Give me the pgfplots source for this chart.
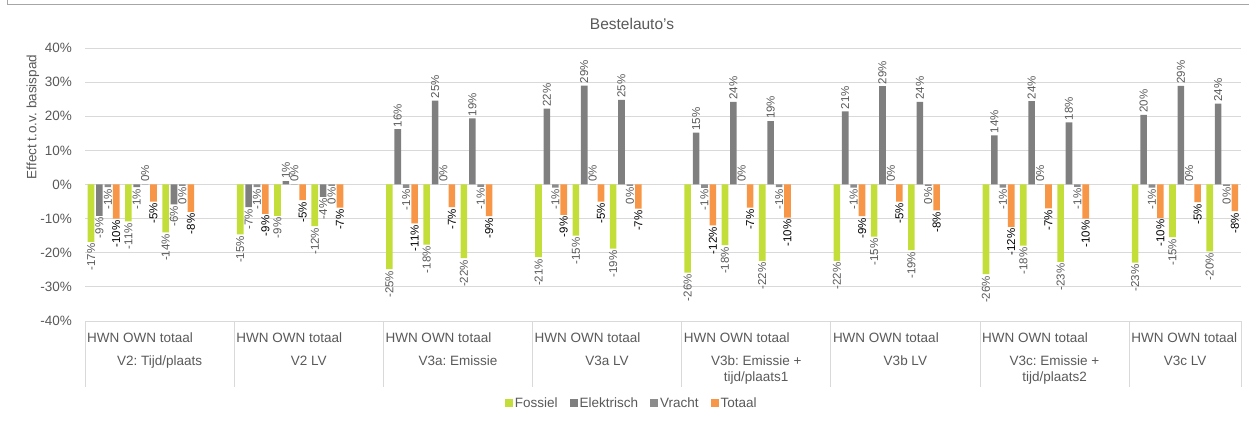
\documentclass[border=0pt]{standalone}
\usepackage{pgfplots}
\pgfplotsset{compat=1.18}
\usepackage{pgfplotstable}
\usepackage{fontspec}
\setmainfont{Liberation Sans}
\frenchspacing

\definecolor{fossiel}{HTML}{C3DE38}
\definecolor{elektrisch}{HTML}{7F7F7F}
\definecolor{vracht}{HTML}{8C8C8C}
\definecolor{totaal}{HTML}{F79646}
\definecolor{txt}{HTML}{595959}
\definecolor{gridc}{HTML}{D9D9D9}
\definecolor{framec}{HTML}{A6A6A6}

% data labels: \UP{..} above the bar end, \DN{..} below it
\protected\def\UP#1{#1\%}
\protected\def\DN#1{\llap{#1\%\hspace{4pt}}}

% x = slot (HWN, OWN, totaal per scenario; every 4th slot is empty)
% y = bar height in %, l = data label
\pgfplotstableread{
x y l
0 -16.8 \DN{-17}
1 -10.8 \DN{-11}
2 -14.0 \DN{-14}
4 -14.6 \DN{-15}
5 -9.2 \DN{-9}
6 -12.2 \DN{-12}
8 -24.8 \DN{-25}
9 -17.6 \DN{-18}
10 -21.6 \DN{-22}
12 -21.3 \DN{-21}
13 -15.0 \DN{-15}
14 -18.8 \DN{-19}
16 -25.8 \DN{-26}
17 -17.8 \DN{-18}
18 -22.4 \DN{-22}
20 -22.4 \DN{-22}
21 -15.3 \DN{-15}
22 -19.2 \DN{-19}
24 -26.3 \DN{-26}
25 -17.9 \DN{-18}
26 -22.7 \DN{-23}
28 -22.9 \DN{-23}
29 -15.4 \DN{-15}
30 -19.6 \DN{-20}
}\tabF

\pgfplotstableread{
x y l
0 -9.2 \DN{-9}
1 -0.8 \DN{-1}
2 -5.8 \DN{-6}
4 -6.6 \DN{-7}
5 1.0 \UP{1}
6 -3.6 \DN{-4}
8 16.2 \UP{16}
9 24.6 \UP{25}
10 19.4 \UP{19}
12 22.2 \UP{22}
13 29.0 \UP{29}
14 24.8 \UP{25}
16 15.2 \UP{15}
17 24.2 \UP{24}
18 18.6 \UP{19}
20 21.4 \UP{21}
21 28.8 \UP{29}
22 24.2 \UP{24}
24 14.4 \UP{14}
25 24.4 \UP{24}
26 18.2 \UP{18}
28 20.4 \UP{20}
29 28.9 \UP{29}
30 23.7 \UP{24}
}\tabE

\pgfplotstableread{
x y l
0 -0.8 \DN{-1}
1 0.1 \UP{0}
2 -0.4 \DN{0}
4 -0.8 \DN{-1}
5 0.1 \UP{0}
6 -0.4 \DN{0}
8 -1.0 \DN{-1}
9 0.1 \UP{0}
10 -0.7 \DN{-1}
12 -0.9 \DN{-1}
13 0.1 \UP{0}
14 -0.4 \DN{0}
16 -1.0 \DN{-1}
17 0.1 \UP{0}
18 -0.8 \DN{-1}
20 -0.9 \DN{-1}
21 0.1 \UP{0}
22 -0.4 \DN{0}
24 -0.9 \DN{-1}
25 0.1 \UP{0}
26 -0.7 \DN{-1}
28 -0.9 \DN{-1}
29 0.1 \UP{0}
30 -0.4 \DN{0}
}\tabV

\pgfplotstableread{
x y l
0 -10.0 \DN{-10}
1 -5.0 \DN{-5}
2 -8.0 \DN{-8}
4 -8.6 \DN{-9}
5 -4.6 \DN{-5}
6 -6.8 \DN{-7}
8 -11.4 \DN{-11}
9 -6.6 \DN{-7}
10 -9.3 \DN{-9}
12 -8.9 \DN{-9}
13 -5.0 \DN{-5}
14 -7.1 \DN{-7}
16 -12.0 \DN{-12}
17 -6.8 \DN{-7}
18 -9.7 \DN{-10}
20 -9.3 \DN{-9}
21 -5.0 \DN{-5}
22 -7.6 \DN{-8}
24 -12.4 \DN{-12}
25 -7.0 \DN{-7}
26 -10.0 \DN{-10}
28 -9.8 \DN{-10}
29 -5.2 \DN{-5}
30 -7.8 \DN{-8}
}\tabT

\pgfplotsset{
    lbl/.style={
        point meta=explicit symbolic,
        nodes near coords={\pgfplotspointmeta},
        every node near coord/.append style={rotate=90, anchor=west, inner sep=2pt,
            text=#1, font=\fontsize{11.5}{13}\selectfont},
    },
}

\begin{document}
\begin{tikzpicture}
\useasboundingbox (0pt,0pt) rectangle (1249pt,420pt);
\draw[framec, line width=1pt] (7pt,420pt) -- (7pt,415pt) -- (1249pt,415pt);
\node[text=txt, font=\fontsize{15.5}{18}\selectfont] at (632pt,396pt) {Bestelauto's};
\node[text=txt, rotate=90, font=\fontsize{13.5}{16}\selectfont] at (33pt,303pt) {Effect t.o.v. basispad};

\begin{axis}[
    at={(85pt,99pt)}, anchor=south west,
    scale only axis, width=1156pt, height=273pt,
    ybar=1.8pt, bar width=6.6pt,
    legend image code/.code={\fill[#1] (0pt,-4pt) rectangle (8pt,4pt);},
    xmin=-0.5, xmax=30.5, ymin=-40, ymax=40,
    xtick=\empty,
    ytick={-40,-30,...,40},
    yticklabels={-40\%,-30\%,-20\%,-10\%,0\%,10\%,20\%,30\%,40\%},
    yticklabel style={text=txt, font=\fontsize{13.5}{16}\selectfont, inner sep=0pt, xshift=-13pt},
    major tick length=0pt,
    axis line style={draw=none},
    ymajorgrids, grid style={gridc, line width=0.9pt},
    clip=false,
    legend columns=4,
    legend style={at={(0.473,-0.300)}, anchor=center, draw=none,
        font=\fontsize{13.5}{16}\selectfont, text=txt,
        nodes={inner xsep=2pt},
        /tikz/every even column/.append style={column sep=10pt}},
]
\addplot[fill=fossiel, draw=none, lbl=txt] table[x=x, y=y, meta=l] {\tabF};
\addplot[fill=elektrisch, draw=none, lbl=txt] table[x=x, y=y, meta=l] {\tabE};
\addplot[fill=vracht, draw=none, lbl=txt] table[x=x, y=y, meta=l] {\tabV};
\addplot[fill=totaal, draw=none, lbl=black] table[x=x, y=y, meta=l] {\tabT};
\legend{Fossiel,Elektrisch,Vracht,Totaal}

% category box below the plot
\foreach \b in {-0.5,3.5,7.5,11.5,15.5,19.5,23.5,27.5,30.5} {
    \edef\tmp{\noexpand\draw[gridc, line width=0.9pt] (axis cs:\b,-40) -- ([yshift=-66pt]axis cs:\b,-40);}
    \tmp
}
\foreach \b in {-0.5,3.5,7.5,11.5,15.5,19.5,23.5,27.5} {
    \edef\tmp{\noexpand\node[anchor=west, inner sep=0pt, text=txt, font=\noexpand\fontsize{13.5}{16}\noexpand\selectfont]
        at ([shift={(2pt,-17pt)}]axis cs:\b,-40) {HWN OWN totaal};}
    \tmp
}
\tikzset{grp/.style={anchor=north, inner sep=0pt, align=center, text=txt, font=\fontsize{13.5}{16}\selectfont}}
\node[grp] at ([yshift=-35pt]axis cs:1.5,-40) {V2: Tijd/plaats};
\node[grp] at ([yshift=-35pt]axis cs:5.5,-40) {V2 LV};
\node[grp] at ([yshift=-35pt]axis cs:9.5,-40) {V3a: Emissie};
\node[grp] at ([yshift=-35pt]axis cs:13.5,-40) {V3a LV};
\node[grp] at ([yshift=-35pt]axis cs:17.5,-40) {V3b: Emissie +\\tijd/plaats1};
\node[grp] at ([yshift=-35pt]axis cs:21.5,-40) {V3b LV};
\node[grp] at ([yshift=-35pt]axis cs:25.5,-40) {V3c: Emissie +\\tijd/plaats2};
\node[grp] at ([yshift=-35pt]axis cs:29,-40) {V3c LV};
\end{axis}
\end{tikzpicture}
\end{document}
